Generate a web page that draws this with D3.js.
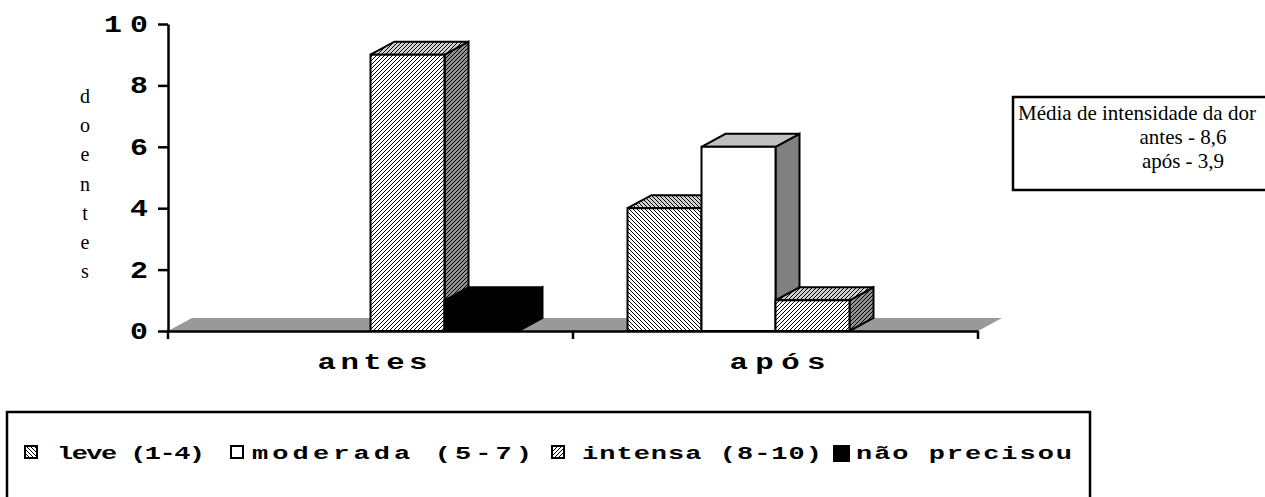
<!DOCTYPE html>
<html>
  <head>
    <meta charset="utf-8">
    <title>Intensidade da dor</title>
    <script src="https://d3js.org/d3.v7.min.js"></script>
    <style>
      body { margin: 0; background: #fff; }
      .mono { font-family: "Liberation Mono", monospace; font-weight: bold; }
      .serif { font-family: "Liberation Serif", "Times New Roman", serif; }
    </style>
  </head>
  <body>
    <svg width="1265" height="497"></svg>

    <script>
      // data (numero de doentes)
      const categories = ["antes", "após"];
      const series = ["leve (1-4)", "moderada (5-7)", "intensa (8-10)", "não precisou"];
      const leve = [0, 4];
      const moderada = [0, 6];
      const intensa = [9, 1];
      const naoPrecisou = [1, 0];
      const yTicks = [0, 2, 4, 6, 8, 10];
      const yTitle = "doentes";
      const nota = ["Média de intensidade da dor", "antes - 8,6", "após - 3,9"];

      const values = [leve, moderada, intensa, naoPrecisou];

      const svg = d3.select("svg");
      const plotLeft = 168, plotRight = 978, plotTop = 24, base = 331;
      const dx = 24, dy = -13; // 3d depth
      const wide = 1.4; // the old courier text is stretched sideways

      const x = d3.scaleBand().domain(categories).range([plotLeft, plotRight]);
      const groupW = 296;
      const xs = d3.scaleBand().domain(series).range([0, groupW]);
      const y = d3.scaleLinear().domain([0, 10]).range([base, plotTop]);

      // hatch patterns
      const defs = svg.append("defs");
      function hatch(id, dir, bg) {
        const p = defs.append("pattern").attr("id", id)
          .attr("patternUnits", "userSpaceOnUse").attr("width", 4).attr("height", 4);
        p.append("rect").attr("width", 4).attr("height", 4).attr("fill", bg);
        p.append("path")
          .attr("d", dir === "fwd"
            ? "M-1,1 l2,-2 M0,4 l4,-4 M3,5 l2,-2"
            : "M-1,3 l2,2 M0,0 l4,4 M3,-1 l2,2")
          .attr("stroke", "#000").attr("stroke-width", 1.2)
          .attr("shape-rendering", "crispEdges");
      }
      hatch("leveFront", "back", "#fff");
      hatch("leveTop", "back", "#d0d0d0");
      hatch("leveSide", "back", "#909090");
      hatch("intFront", "fwd", "#fff");
      hatch("intTop", "fwd", "#d0d0d0");
      hatch("intSide", "fwd", "#909090");

      const fills = [
        { front: "url(#leveFront)", top: "url(#leveTop)", side: "url(#leveSide)" },
        { front: "#fff", top: "#c0c0c0", side: "#808080" },
        { front: "url(#intFront)", top: "url(#intTop)", side: "url(#intSide)" },
        { front: "#000", top: "#000", side: "#000" }
      ];

      // floor
      svg.append("polygon")
        .attr("points", [[plotLeft, base], [plotLeft + dx, base + dy], [plotRight + dx, base + dy], [plotRight, base]].join(" "))
        .attr("fill", "#999");

      // bars, drawn left to right so the later ones cover the sides
      const bars = [];
      categories.forEach((c, ci) => {
        series.forEach((s, si) => {
          bars.push({ cat: c, s: si, v: values[si][ci] });
        });
      });

      const g = svg.append("g").attr("stroke", "#000").attr("stroke-width", 2).attr("stroke-linejoin", "miter");
      bars.filter(d => d.v > 0).forEach(d => {
        const x0 = x(d.cat) + (x.bandwidth() - groupW) / 2 + xs(series[d.s]);
        const x1 = x0 + xs.bandwidth();
        const yt = y(d.v);
        const f = fills[d.s];
        g.append("polygon")
          .attr("points", [[x1, yt], [x1 + dx, yt + dy], [x1 + dx, base + dy], [x1, base]].join(" "))
          .attr("fill", f.side);
        g.append("polygon")
          .attr("points", [[x0, yt], [x0 + dx, yt + dy], [x1 + dx, yt + dy], [x1, yt]].join(" "))
          .attr("fill", f.top);
        g.append("rect")
          .attr("x", x0).attr("y", yt)
          .attr("width", x1 - x0).attr("height", base - yt)
          .attr("fill", f.front);
      });

      // y axis
      const yAxis = svg.append("g")
        .attr("transform", `translate(${plotLeft},0)`)
        .call(d3.axisLeft(y).tickValues(yTicks).tickSize(10).tickSizeOuter(0).tickFormat(""));
      yAxis.selectAll("path, line").attr("stroke", "#000").attr("stroke-width", 2.5);
      svg.append("g").selectAll("text").data(yTicks).join("text")
        .attr("class", "mono")
        .attr("font-size", 23)
        .attr("text-anchor", "end")
        .attr("transform", d => `translate(148,${y(d) + 8}) scale(1.3,1)`)
        .each(function (d) {
          if (String(d).length > 1) d3.select(this).attr("textLength", 44 / 1.3).attr("lengthAdjust", "spacing");
        })
        .text(d => d);

      // x axis
      const xAxis = svg.append("g")
        .attr("transform", `translate(0,${base})`)
        .call(d3.axisBottom(x).tickSize(0).tickSizeOuter(0).tickFormat(""));
      xAxis.select("path").attr("stroke", "#000").attr("stroke-width", 2.5);

      const bounds = categories.map(c => x(c)).concat([x.range()[1]]);
      xAxis.selectAll(".bound").data(bounds).join("line")
        .attr("x1", d => d).attr("x2", d => d)
        .attr("y1", 0).attr("y2", 8)
        .attr("stroke", "#000").attr("stroke-width", 2.5);

      const catW = { "antes": 110, "após": 96 };
      svg.append("g").selectAll("text").data(categories).join("text")
        .attr("class", "mono")
        .attr("font-size", 22)
        .attr("text-anchor", "middle")
        .attr("transform", d => `translate(${x(d) + x.bandwidth() / 2 + 2},369) scale(${wide},1)`)
        .attr("textLength", d => catW[d] / wide)
        .attr("lengthAdjust", "spacing")
        .text(d => d);

      // y title, letters stacked
      svg.append("g").selectAll("text").data(yTitle.split("")).join("text")
        .attr("class", "serif")
        .attr("x", 85).attr("y", (d, i) => 103 + i * 29.2)
        .attr("text-anchor", "middle")
        .attr("font-size", 20)
        .text(d => d);

      // note box
      svg.append("rect")
        .attr("x", 1013).attr("y", 97).attr("width", 300).attr("height", 93)
        .attr("fill", "#fff").attr("stroke", "#000").attr("stroke-width", 2.5);
      svg.append("g").selectAll("text").data(nota).join("text")
        .attr("class", "serif")
        .attr("font-size", 21)
        .attr("x", (d, i) => i === 0 ? 1018 : 1183)
        .attr("text-anchor", (d, i) => i === 0 ? "start" : "middle")
        .attr("y", (d, i) => 120 + i * 24)
        .text(d => d);

      // legend
      svg.append("rect")
        .attr("x", 7).attr("y", 412).attr("width", 1083).attr("height", 120)
        .attr("fill", "none").attr("stroke", "#000").attr("stroke-width", 2.5);

      const legItems = [
        { sw: 25, tx: 57, w: 148, fill: "url(#leveFront)" },
        { sw: 231, tx: 252, w: 280, fill: "#fff" },
        { sw: 552, tx: 582, w: 240, fill: "url(#intFront)" },
        { sw: 834, tx: 856, w: 216, fill: "#000" }
      ];
      const legWide = 1.5;
      const leg = svg.append("g").selectAll("g").data(series).join("g");
      leg.append("rect")
        .attr("x", (d, i) => legItems[i].sw).attr("y", 446)
        .attr("width", (d, i) => i === 3 ? 15 : 12).attr("height", (d, i) => i === 3 ? 15 : 12)
        .attr("fill", (d, i) => legItems[i].fill)
        .attr("stroke", "#000").attr("stroke-width", 2);
      leg.append("text")
        .attr("class", "mono")
        .attr("font-size", 18)
        .attr("transform", (d, i) => `translate(${legItems[i].tx},459) scale(${legWide},1)`)
        .attr("textLength", (d, i) => legItems[i].w / legWide)
        .attr("lengthAdjust", "spacing")
        .text(d => d);
    </script>
  </body>
</html>
